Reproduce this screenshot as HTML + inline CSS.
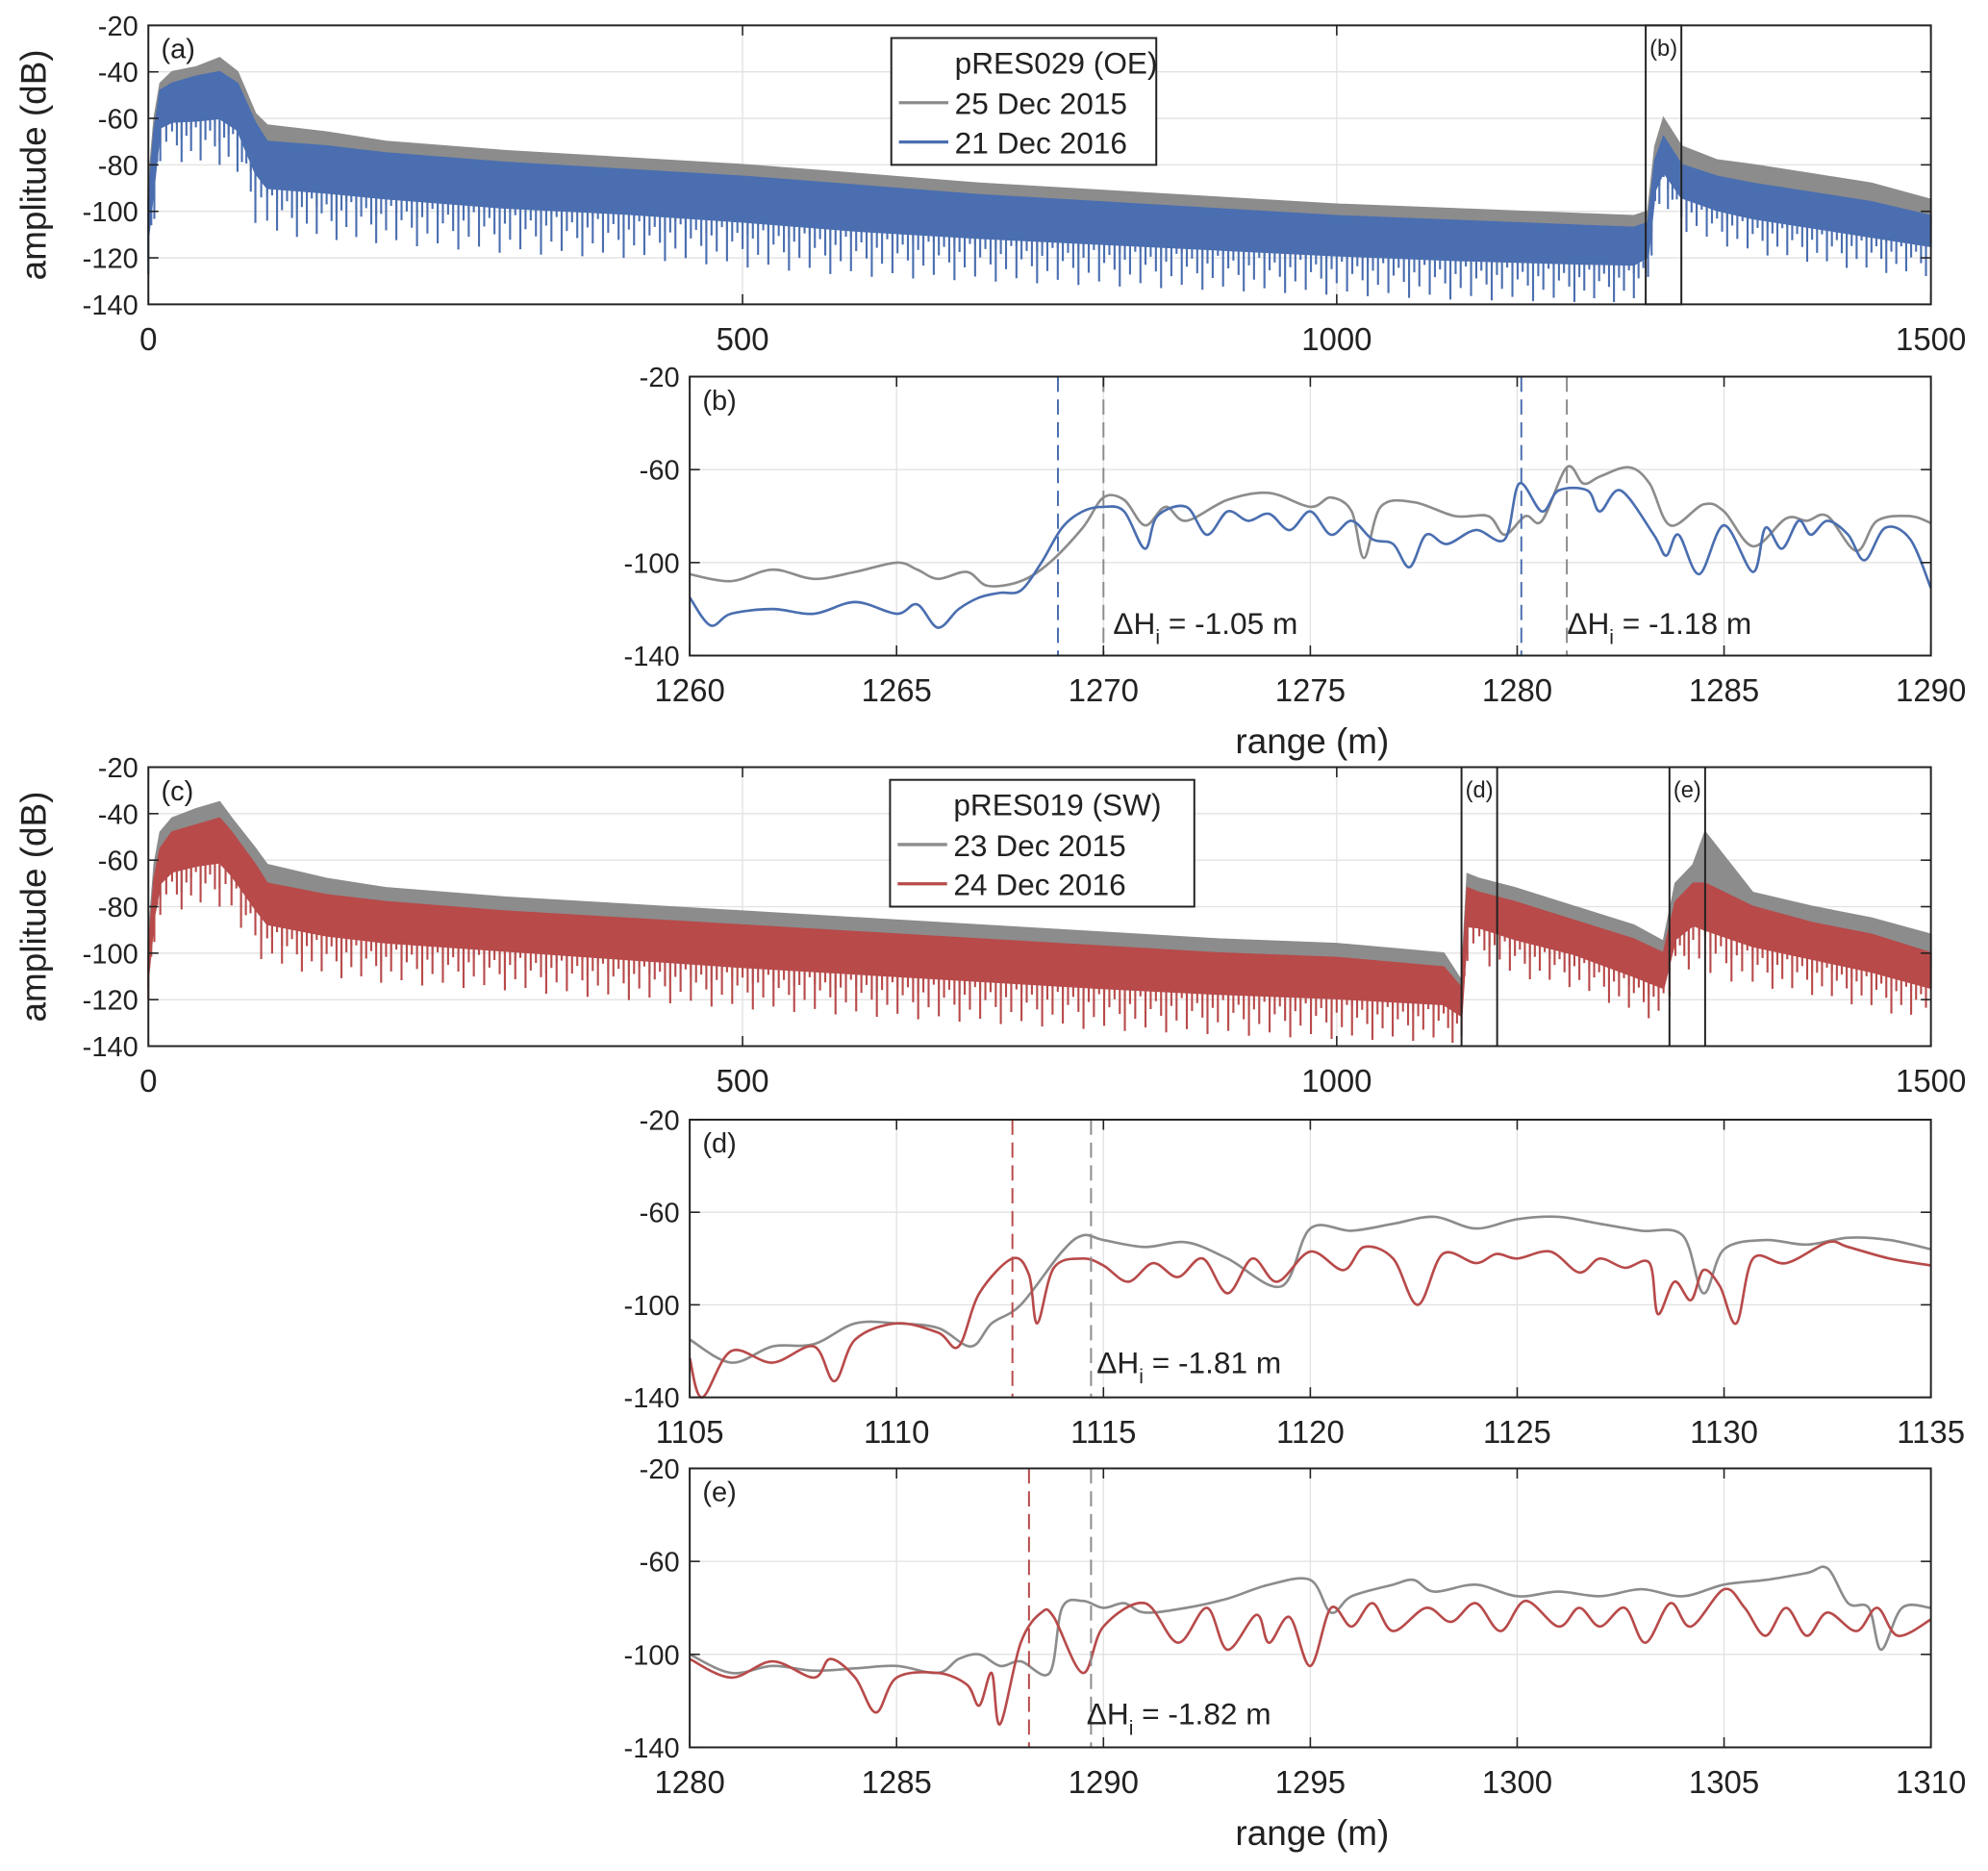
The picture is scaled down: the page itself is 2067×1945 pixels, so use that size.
<!DOCTYPE html>
<html><head><meta charset="utf-8"><style>
html,body{margin:0;padding:0;background:#fff}
svg{display:block}
text{font-family:"Liberation Sans",sans-serif;fill:#222}
</style></head><body>
<svg id="fig" width="2067" height="1945" viewBox="0 0 1568 1475.5" xmlns="http://www.w3.org/2000/svg"></svg>
<script>
// ---------- data: full-range envelopes (panel a, pRES029) ----------
const xA = [0,5,10,20,40,60,75,90,100,150,200,300,400,500,600,700,800,900,1000,1100,1200,1250,1262,1268,1275,1290,1320,1350,1400,1450,1500];
const aGrayTop = [-90,-60,-45,-40,-38,-34,-40,-58,-63,-66,-70,-74,-77,-80,-84,-88,-91,-94,-97,-99,-101,-102,-100,-72,-60,-72,-78,-80,-84,-88,-95];
const aGrayLow = [-120,-100,-72,-68,-70,-70,-75,-95,-98,-100,-102,-105,-108,-110,-113,-116,-118,-120,-122,-124,-126,-128,-122,-96,-90,-98,-103,-106,-110,-113,-116];
const aBlueTop = [-95,-65,-48,-45,-42,-40,-45,-62,-70,-72,-75,-79,-82,-85,-89,-93,-96,-99,-102,-104,-106,-107,-105,-78,-68,-80,-85,-88,-92,-96,-102];
const aBlueLow = [-127,-110,-80,-78,-80,-80,-85,-105,-110,-112,-114,-118,-120,-124,-128,-130,-132,-134,-136,-138,-139,-139,-134,-104,-98,-108,-114,-118,-122,-126,-128];
// ---------- panel c, pRES019 ----------
const xC = [0,5,10,20,40,60,70,90,100,150,200,300,400,500,600,700,800,900,1000,1090,1105,1110,1120,1150,1200,1250,1275,1285,1300,1310,1350,1400,1450,1500];
const cGrayTop = [-95,-62,-48,-42,-38,-35,-42,-55,-62,-68,-72,-76,-79,-82,-85,-88,-91,-94,-96,-100,-112,-66,-68,-72,-80,-88,-95,-70,-62,-48,-74,-80,-85,-92];
const cGrayLow = [-115,-95,-78,-75,-72,-72,-76,-90,-98,-100,-104,-108,-110,-113,-116,-118,-120,-122,-124,-126,-128,-96,-96,-100,-106,-116,-120,-100,-98,-100,-104,-108,-112,-120];
const cRedTop = [-100,-68,-55,-48,-45,-42,-48,-62,-70,-75,-78,-82,-85,-88,-91,-94,-97,-100,-102,-106,-115,-72,-74,-78,-86,-94,-100,-78,-70,-70,-80,-87,-92,-100];
const cRedLow = [-120,-100,-85,-82,-80,-80,-85,-100,-105,-110,-113,-116,-120,-124,-127,-130,-133,-135,-137,-138,-139,-105,-104,-110,-115,-126,-130,-110,-106,-110,-114,-118,-124,-130];
// ---------- zoom panel b ----------
const bGrayX = [1260,1261,1262,1263,1264,1265,1265.5,1266,1266.7,1267.2,1268,1268.7,1269.5,1270,1270.5,1271,1271.5,1272,1273,1274,1275,1275.5,1276,1276.3,1276.7,1277.5,1278.5,1279.3,1279.7,1280.2,1280.6,1281.2,1281.6,1282,1282.7,1283.2,1283.7,1284.5,1285,1285.7,1286.5,1287,1287.5,1288.2,1288.7,1289.5,1290];
const bGrayY = [-105,-108,-103,-107,-104,-100,-103,-107,-104,-110,-108,-100,-85,-72,-73,-84,-76,-82,-73,-70,-76,-72,-78,-98,-76,-74,-80,-80,-88,-80,-82,-59,-66,-63,-59,-66,-84,-75,-78,-93,-81,-82,-80,-95,-82,-80,-83];
const bBlueX = [1260,1260.5,1261,1262,1263,1264,1265,1265.5,1266,1266.5,1267,1267.5,1268,1268.5,1269,1269.5,1270,1270.5,1271,1271.3,1272,1272.5,1273,1273.5,1274,1274.5,1275,1275.5,1276,1276.5,1277,1277.4,1277.8,1278.3,1279,1279.7,1280.05,1280.6,1281,1281.7,1282,1282.5,1283.3,1283.6,1283.9,1284.4,1285,1285.7,1286,1286.4,1286.8,1287.1,1287.5,1288,1288.4,1288.9,1289.5,1290];
const bBlueY = [-115,-127,-122,-120,-122,-117,-122,-118,-128,-120,-115,-113,-112,-100,-85,-78,-76,-78,-94,-80,-76,-88,-78,-82,-79,-86,-78,-88,-82,-90,-92,-102,-88,-92,-86,-90,-66,-78,-69,-69,-78,-69,-88,-97,-88,-105,-84,-104,-85,-94,-82,-88,-82,-88,-99,-85,-90,-111];
const bPicks = [1268.9,1270.0,1280.1,1281.2];
// ---------- zoom panel d ----------
const dGrayX = [1105,1106,1107,1108,1109,1110,1111,1111.8,1112.3,1113,1114,1114.5,1115,1116,1117,1118,1119.3,1120,1121,1122,1123,1124,1125,1126,1127,1128,1129,1129.5,1130,1131,1132,1133,1134,1135];
const dGrayY = [-115,-125,-118,-117,-108,-108,-110,-118,-108,-100,-77,-70,-72,-75,-73,-80,-92,-67,-68,-65,-62,-67,-63,-62,-65,-68,-70,-95,-76,-72,-74,-71,-72,-76];
const dRedX = [1105,1105.3,1106,1107,1108,1108.5,1109,1110,1111,1111.5,1112,1112.8,1113.2,1113.4,1113.8,1114.5,1115,1115.6,1116.2,1116.8,1117.4,1118,1118.6,1119.2,1120,1120.8,1121.3,1122,1122.6,1123.2,1124,1124.5,1125,1125.8,1126.5,1127,1127.6,1128.2,1128.4,1128.8,1129.2,1129.5,1129.9,1130.3,1130.7,1131.5,1132.5,1133,1134,1135];
const dRedY = [-123,-140,-120,-125,-118,-133,-115,-108,-112,-118,-95,-80,-87,-108,-84,-80,-83,-90,-82,-88,-80,-95,-80,-90,-77,-85,-75,-80,-100,-78,-82,-78,-80,-77,-86,-80,-84,-82,-104,-90,-98,-85,-92,-108,-80,-82,-73,-75,-80,-83];
const dPicks = [1112.8,1114.7];
// ---------- zoom panel e ----------
const eGrayX = [1280,1281,1282,1283,1284,1285,1286,1286.5,1287,1287.5,1288,1288.7,1289,1289.5,1290,1290.5,1291,1292,1293,1294,1295,1295.5,1296,1297,1297.5,1298,1299,1300,1301,1302,1303,1304,1305,1306,1307,1307.5,1308,1308.5,1308.8,1309.3,1310];
const eGrayY = [-100,-108,-105,-107,-106,-105,-108,-102,-100,-105,-103,-108,-80,-77,-80,-78,-82,-80,-76,-70,-68,-82,-75,-70,-68,-73,-70,-75,-73,-75,-72,-75,-70,-68,-65,-63,-78,-80,-98,-80,-80];
const eRedX = [1280,1281,1282,1283,1283.4,1284,1284.5,1285,1286,1286.7,1287,1287.3,1287.5,1288,1288.5,1288.8,1289.5,1290,1291,1291.8,1292.5,1293,1293.7,1294,1294.5,1295,1295.5,1296,1296.5,1297,1297.8,1298.4,1299,1299.6,1300.2,1301,1301.5,1302,1302.6,1303.1,1303.7,1304.2,1305,1305.5,1306,1306.5,1307,1307.5,1308.2,1308.7,1309.2,1310];
const eRedY = [-102,-110,-103,-110,-102,-110,-125,-110,-108,-113,-122,-108,-130,-95,-82,-84,-108,-88,-78,-95,-80,-98,-83,-95,-84,-105,-80,-88,-78,-90,-80,-86,-78,-90,-77,-88,-80,-88,-80,-95,-78,-88,-72,-80,-92,-80,-92,-82,-90,-80,-92,-85];
const ePicks = [1288.2,1289.7];

const GRAY="#8c8c8c", BLUE="#4a6eb0", RED="#b84a4a";
const NS="http://www.w3.org/2000/svg";
const svg=document.getElementById('fig');
function el(tag,attrs,parent){const e=document.createElementNS(NS,tag);for(const k in attrs)e.setAttribute(k,attrs[k]);(parent||svg).appendChild(e);return e;}
function txt(s,x,y,size,anchor,parent){const t=el('text',{x:x,y:y,'font-size':size,'text-anchor':anchor||'middle'},parent);t.textContent=s;return t;}

function makeAxes(name,L,R,T,B,x0,x1,xticks,yticks,gridY){
  const g=el('g',{});
  
  
  const sx=v=>L+(v-x0)/(x1-x0)*(R-L);
  const sy=v=>T+(-20-v)/120*(B-T);
  xticks.forEach(v=>{if(v>x0&&v<x1)el('line',{x1:sx(v),x2:sx(v),y1:T,y2:B,stroke:'#e2e2e2','stroke-width':1},g);});
  gridY.forEach(v=>{if(v<-20&&v>-140)el('line',{x1:L,x2:R,y1:sy(v),y2:sy(v),stroke:'#e2e2e2','stroke-width':1},g);});
  return {g,sx,sy,L,R,T,B,xticks,yticks};
}
function frame(ax){
  const {g,sx,sy,L,R,T,B}=ax;
  ax.xticks.forEach(v=>{el('line',{x1:sx(v),x2:sx(v),y1:B,y2:B-8,stroke:'#222','stroke-width':1.2},g);el('line',{x1:sx(v),x2:sx(v),y1:T,y2:T+8,stroke:'#222','stroke-width':1.2},g);
    const t=txt(String(v),sx(v),B+36,25,'middle',g);
    
    });
  ax.yticks.forEach(v=>{el('line',{x1:L,x2:L+8,y1:sy(v),y2:sy(v),stroke:'#222','stroke-width':1.2},g);el('line',{x1:R,x2:R-8,y1:sy(v),y2:sy(v),stroke:'#222','stroke-width':1.2},g);
    const t=txt(String(v),L-8,sy(v)+8,22,'end',g);
    
    });
  el('rect',{x:L,y:T,width:R-L,height:B-T,fill:'none',stroke:'#222','stroke-width':1.5},g);
}
const spikePattern=[1,0.35,0.7,0.15,0.9,0.45,0.25,0.6];
function band(ax,xs,top,low,color,name){
  const mid=top.map((t,i)=>t+(low[i]-t)*0.5);
  let d='';
  xs.forEach((x,i)=>{d+=(i?'L':'M')+ax.sx(x).toFixed(1)+','+ax.sy(top[i]).toFixed(1);});
  for(let i=xs.length-1;i>=0;i--)d+='L'+ax.sx(xs[i]).toFixed(1)+','+ax.sy(mid[i]).toFixed(1);
  const p=el('path',{d:d+'Z',fill:color,stroke:color,'stroke-width':1.5},ax.g);
  
  
  let z='',c=0;
  for(let i=0;i<xs.length-1;i++){
    const n=Math.max(2,Math.round((ax.sx(xs[i+1])-ax.sx(xs[i]))/4));
    for(let k=0;k<n;k++){const f=k/n;const x=xs[i]+(xs[i+1]-xs[i])*f;
      const m=mid[i]+(mid[i+1]-mid[i])*f, l=low[i]+(low[i+1]-low[i])*f;
      const y=m+(l-m)*spikePattern[c%spikePattern.length];c++;
      z+='M'+ax.sx(x).toFixed(1)+','+ax.sy(m).toFixed(1)+'L'+ax.sx(x).toFixed(1)+','+ax.sy(y).toFixed(1);}
  }
  const zz=el('path',{d:z,fill:'none',stroke:color,'stroke-width':1.6},ax.g);
  
  
}
function line(ax,xs,ys,color,name){
  const P=xs.map((x,i)=>[ax.sx(x),ax.sy(Math.max(-140,ys[i]))]);
  let d='M'+P[0][0].toFixed(1)+','+P[0][1].toFixed(1);
  for(let i=0;i<P.length-1;i++){
    const p0=P[Math.max(0,i-1)],p1=P[i],p2=P[i+1],p3=P[Math.min(P.length-1,i+2)];
    const c1=[p1[0]+(p2[0]-p0[0])/6,p1[1]+(p2[1]-p0[1])/6],c2=[p2[0]-(p3[0]-p1[0])/6,p2[1]-(p3[1]-p1[1])/6];
    d+='C'+c1[0].toFixed(1)+','+c1[1].toFixed(1)+' '+c2[0].toFixed(1)+','+c2[1].toFixed(1)+' '+p2[0].toFixed(1)+','+p2[1].toFixed(1);
  }
  const p=el('path',{d:d,fill:'none',stroke:color,'stroke-width':2,'stroke-linejoin':'round'},ax.g);
  
  
}
function pick(ax,x,color,name){
  const l=el('line',{x1:ax.sx(x),x2:ax.sx(x),y1:ax.T,y2:ax.B,stroke:color,'stroke-width':1.5,'stroke-dasharray':'12,6'},ax.g);
  
  
}
function dH(ax,x,y,val){
  const t=el('text',{x:x,y:y,'font-size':24,'text-anchor':'start'},ax.g);
  t.innerHTML='ΔH<tspan font-size="16" dy="8">i</tspan><tspan dy="-8"> = '+val+' m</tspan>';
  
  
}
function legend(x,y,w,title,l1,c1,l2,c2,name){
  const g=el('g',{});
  
  
  el('rect',{x:x,y:y,width:w,height:100,fill:'#fff',stroke:'#222','stroke-width':1.5},g);
  txt(title,x+50,y+28,24,'start',g);
  el('line',{x1:x+6,x2:x+45,y1:y+51,y2:y+51,stroke:c1,'stroke-width':2.5},g);
  txt(l1,x+50,y+60,24,'start',g);
  el('line',{x1:x+6,x2:x+45,y1:y+82,y2:y+82,stroke:c2,'stroke-width':2.5},g);
  txt(l2,x+50,y+91,24,'start',g);
}
function boxmark(ax,x0,x1,lab,name){
  const r=el('rect',{x:ax.sx(x0),y:ax.T,width:ax.sx(x1)-ax.sx(x0),height:ax.B-ax.T,fill:'none',stroke:'#222','stroke-width':1.5},ax.g);
  
  
  txt(lab,(ax.sx(x0)+ax.sx(x1))/2,ax.T+24,18,'middle',ax.g);
}
function panelLabel(ax,s){const t=txt(s,ax.L+10,ax.T+26,22,'start',ax.g);}
function ylab(y,name){const t=el('text',{x:0,y:0,'font-size':28,'text-anchor':'middle',transform:'translate(36,'+y+') rotate(-90)'});t.textContent='amplitude (dB)';}

const full=[-20,-40,-60,-80,-100,-120,-140];
// Panel a
const A=makeAxes('panel-a',117,1523,20,240,0,1500,[0,500,1000,1500],full,full);
band(A,xA,aGrayTop,aGrayLow,GRAY,'series-2015-oe');
band(A,xA,aBlueTop,aBlueLow,BLUE,'series-2016-oe');
boxmark(A,1260,1290,'(b)','zoom-box-b');
frame(A);panelLabel(A,'(a)');
legend(703,30,209,'pRES029 (OE)','25 Dec 2015',GRAY,'21 Dec 2016',BLUE,'legend-oe');
ylab(130,'y-axis-title-a');
// Panel b
const zy=[-20,-60,-100,-140];
const Bx=makeAxes('panel-b',544,1523,297,517,1260,1290,[1260,1265,1270,1275,1280,1285,1290],zy,zy);
line(Bx,bGrayX,bGrayY,GRAY,'series-2015-b');
line(Bx,bBlueX,bBlueY,BLUE,'series-2016-b');
pick(Bx,bPicks[0],BLUE,'pick-2016-1');pick(Bx,bPicks[1],GRAY,'pick-2015-1');
pick(Bx,bPicks[2],BLUE,'pick-2016-2');pick(Bx,bPicks[3],GRAY,'pick-2015-2');
frame(Bx);panelLabel(Bx,'(b)');
dH(Bx,878,500,'-1.05');dH(Bx,1236,500,'-1.18');
let xl=txt('range (m)',1035,594,28,'middle');
// Panel c
const C=makeAxes('panel-c',117,1523,605,825,0,1500,[0,500,1000,1500],full,full);
band(C,xC,cGrayTop,cGrayLow,GRAY,'series-2015-sw');
band(C,xC,cRedTop,cRedLow,RED,'series-2016-sw');
boxmark(C,1105,1135,'(d)','zoom-box-d');boxmark(C,1280,1310,'(e)','zoom-box-e');
frame(C);panelLabel(C,'(c)');
legend(702,615,240,'pRES019 (SW)','23 Dec 2015',GRAY,'24 Dec 2016',RED,'legend-sw');
ylab(715,'y-axis-title-c');
// Panel d
const D=makeAxes('panel-d',544,1523,883,1102,1105,1135,[1105,1110,1115,1120,1125,1130,1135],zy,zy);
line(D,dGrayX,dGrayY,GRAY,'series-2015-d');
line(D,dRedX,dRedY,RED,'series-2016-d');
pick(D,dPicks[0],RED,'pick-2016-d');pick(D,dPicks[1],GRAY,'pick-2015-d');
frame(D);panelLabel(D,'(d)');dH(D,865,1083,'-1.81');
// Panel e
const E=makeAxes('panel-e',544,1523,1158,1378,1280,1310,[1280,1285,1290,1295,1300,1305,1310],zy,zy);
line(E,eGrayX,eGrayY,GRAY,'series-2015-e');
line(E,eRedX,eRedY,RED,'series-2016-e');
pick(E,ePicks[0],RED,'pick-2016-e');pick(E,ePicks[1],GRAY,'pick-2015-e');
frame(E);panelLabel(E,'(e)');dH(E,857,1360,'-1.82');
xl=txt('range (m)',1035,1455,28,'middle');
</script>
</body></html>
